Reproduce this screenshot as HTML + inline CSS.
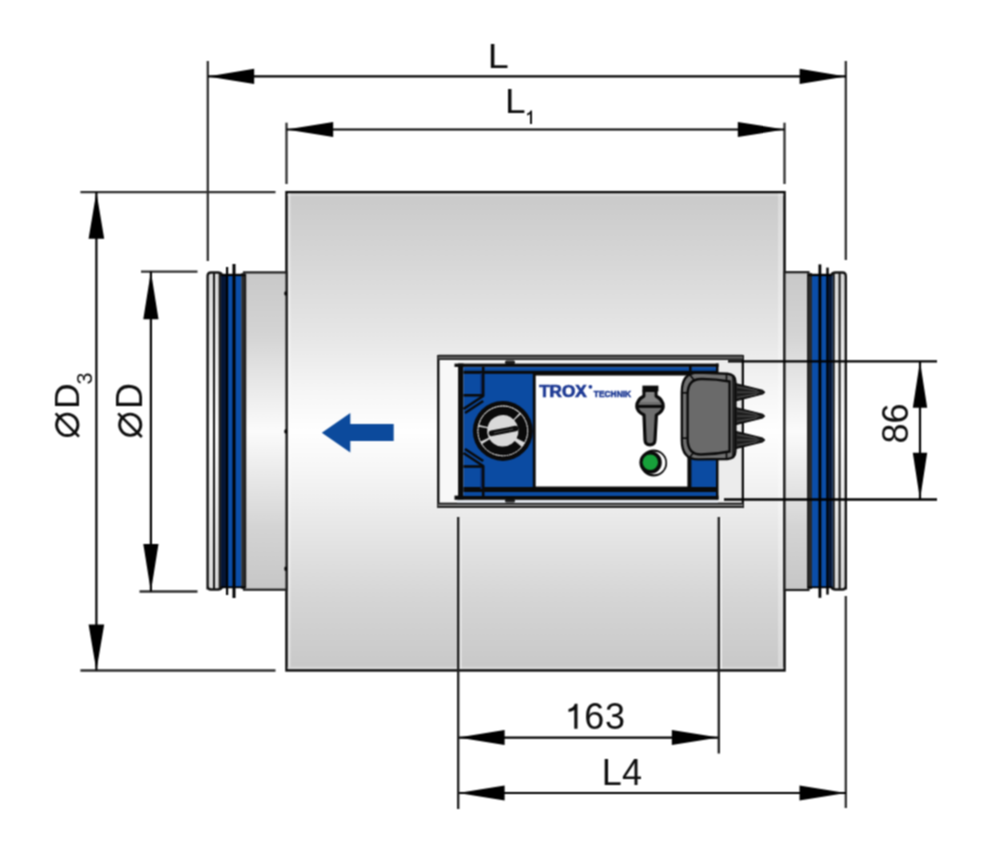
<!DOCTYPE html>
<html><head><meta charset="utf-8">
<style>
html,body{margin:0;padding:0;background:#fff;width:1000px;height:858px;overflow:hidden}
svg{display:block}
text{font-family:"Liberation Sans",sans-serif;fill:#0d0d0d}
</style></head>
<body>
<svg width="1000" height="858" viewBox="0 0 1000 858">
<defs>
<filter id="soft" x="0" y="0" width="1000" height="858" filterUnits="userSpaceOnUse" color-interpolation-filters="sRGB"><feConvolveMatrix order="3" kernelMatrix="1 2 1 2 4 2 1 2 1" divisor="16" edgeMode="duplicate" preserveAlpha="true"/></filter>
<linearGradient id="body" x1="0" y1="192" x2="0" y2="670" gradientUnits="userSpaceOnUse">
<stop offset="0" stop-color="#c9c9c9"/>
<stop offset="0.15" stop-color="#d7d7d7"/>
<stop offset="0.3" stop-color="#e6e6e6"/>
<stop offset="0.42" stop-color="#f6f6f6"/>
<stop offset="0.5" stop-color="#fefefe"/>
<stop offset="0.58" stop-color="#f6f6f6"/>
<stop offset="0.7" stop-color="#e7e7e7"/>
<stop offset="0.85" stop-color="#d5d5d5"/>
<stop offset="1" stop-color="#c8c8c8"/>
</linearGradient>
<linearGradient id="spig" x1="0" y1="272" x2="0" y2="590" gradientUnits="userSpaceOnUse">
<stop offset="0" stop-color="#c8c8c8"/>
<stop offset="0.2" stop-color="#d4d4d4"/>
<stop offset="0.5" stop-color="#fbfbfb"/>
<stop offset="0.8" stop-color="#d4d4d4"/>
<stop offset="1" stop-color="#c6c6c6"/>
</linearGradient>
<linearGradient id="ring" x1="0" y1="272" x2="0" y2="590" gradientUnits="userSpaceOnUse">
<stop offset="0" stop-color="#d8d8d8"/>
<stop offset="0.5" stop-color="#fafafa"/>
<stop offset="1" stop-color="#d8d8d8"/>
</linearGradient>
<linearGradient id="pin" x1="0" y1="0" x2="0" y2="1">
<stop offset="0" stop-color="#111"/>
<stop offset="0.5" stop-color="#333"/>
<stop offset="1" stop-color="#111"/>
</linearGradient>
</defs>
<g filter="url(#soft)">
<rect x="0" y="0" width="1000" height="858" fill="#fff"/>

<!-- ===== main body ===== -->
<rect x="286.5" y="192.2" width="498" height="478.2" fill="url(#body)" stroke="#0a0a0a" stroke-width="2.5"/>

<rect x="287.7" y="193.6" width="495.6" height="2.2" fill="#d9d9d9"/>
<rect x="287.8" y="193.5" width="2.6" height="475.5" fill="#fff" opacity="0.45"/>
<rect x="778" y="193.5" width="5.2" height="475.5" fill="#fff" opacity="0.3"/>
<rect x="287.7" y="666.8" width="495.6" height="2.3" fill="#d8d8d8"/>
<!-- ===== left spigot ===== -->
<g>
<rect x="244" y="272.4" width="42.5" height="317.3" fill="url(#spig)" stroke="#1e1e1e" stroke-width="2.2"/>
<path d="M207.6,589.5 V276 Q207.6,272.5 211,272.5 H218 Q221,272.5 222,275 H245 V587 H222 Q221,589.5 218,589.5 H211 Q207.6,589.5 207.6,586 Z" fill="url(#ring)" stroke="#141414" stroke-width="2.4"/>
<line x1="214" y1="273" x2="214" y2="589" stroke="#141414" stroke-width="2"/>
<line x1="219.8" y1="273" x2="219.8" y2="589" stroke="#141414" stroke-width="2.2"/>
<rect x="221" y="275.5" width="20.5" height="311.5" fill="#0b4ea8"/>
<rect x="221" y="275.5" width="5" height="311.5" fill="#051636"/>
<rect x="241.3" y="273" width="3.6" height="316" fill="#2a2a2a"/>
<rect x="226" y="267" width="2.2" height="328" fill="#000"/>
<rect x="232.5" y="264" width="3" height="334" fill="#000"/>
<line x1="221" y1="275.3" x2="245" y2="275.3" stroke="#000" stroke-width="1.6"/>
<line x1="221" y1="587.2" x2="245" y2="587.2" stroke="#000" stroke-width="1.6"/>
</g>

<!-- ===== right spigot ===== -->
<g>
<rect x="784.5" y="272.2" width="24" height="317.8" fill="url(#spig)" stroke="#1e1e1e" stroke-width="2.2"/>
<path d="M845.8,589.5 V276 Q845.8,272.5 842.4,272.5 H835.4 Q832.4,272.5 831.4,275 H808.4 V587 H831.4 Q832.4,589.5 835.4,589.5 H842.4 Q845.8,589.5 845.8,586 Z" fill="url(#ring)" stroke="#141414" stroke-width="2.4"/>
<line x1="839.6" y1="273" x2="839.6" y2="589" stroke="#141414" stroke-width="2"/>
<line x1="833.6" y1="273" x2="833.6" y2="589" stroke="#141414" stroke-width="2.2"/>
<rect x="812" y="275.5" width="20.5" height="311.5" fill="#0b4ea8"/>
<rect x="829" y="275.5" width="3.2" height="311.5" fill="#051636"/>
<rect x="808.2" y="273" width="3.8" height="316" fill="#2a2a2a"/>
<rect x="818.5" y="264.4" width="2.8" height="333.4" fill="#000"/>
<rect x="826.3" y="267.6" width="2.4" height="327" fill="#000"/>
<line x1="808" y1="275.3" x2="832" y2="275.3" stroke="#000" stroke-width="1.6"/>
<line x1="808" y1="587.2" x2="832" y2="587.2" stroke="#000" stroke-width="1.6"/>
</g>

<ellipse cx="285.6" cy="293.4" rx="1.3" ry="2.2" fill="#000"/>
<ellipse cx="285.6" cy="431.4" rx="1.3" ry="2.2" fill="#000"/>
<ellipse cx="285.6" cy="568.7" rx="1.3" ry="2.2" fill="#000"/>
<!-- ===== flow arrow ===== -->
<polygon points="321.8,432.7 350.3,413.1 350.3,424.1 393.7,424.1 393.7,441.1 350.3,441.1 350.3,452.6" fill="#0c4a9c"/>

<!-- ===== dimension lines ===== -->
<g stroke="#000" fill="none">
<g stroke-width="2.3" stroke="#2e2e2e">
<line x1="207.8" y1="61" x2="207.8" y2="261"/>
<line x1="845.8" y1="61" x2="845.8" y2="260"/>
<line x1="286.5" y1="122.7" x2="286.5" y2="184"/>
<line x1="784.5" y1="122.7" x2="784.5" y2="184"/>
<line x1="80.4" y1="192.1" x2="275.5" y2="192.1"/>
<line x1="80.4" y1="670.5" x2="275.5" y2="670.5"/>
<line x1="141" y1="271.6" x2="197.5" y2="271.6"/>
<line x1="139.5" y1="591.5" x2="197.5" y2="591.5"/>
<line x1="845.8" y1="596" x2="845.8" y2="808"/>
</g>
<g stroke-width="2.2">
<line x1="208" y1="76.4" x2="846" y2="76.4"/>
<line x1="286.5" y1="129.5" x2="784.5" y2="129.5"/>
<line x1="96.4" y1="192" x2="96.4" y2="670.5"/>
<line x1="150.9" y1="271.6" x2="150.9" y2="591.5"/>
<line x1="920" y1="361.6" x2="920" y2="499.5"/>
<line x1="458.2" y1="737.6" x2="718.8" y2="737.6"/>
<line x1="458.2" y1="793" x2="845.8" y2="793"/>
</g>
</g>
<g fill="#000">
<polygon points="207.8,76.4 254.2,68.8 254.2,84"/>
<polygon points="845.8,76.4 799.6,68.8 799.6,84"/>
<polygon points="286.5,129.5 333.2,121.9 333.2,137.1"/>
<polygon points="784.5,129.5 737.8,121.9 737.8,137.1"/>
<polygon points="96.4,192.1 88.6,238.8 104.2,238.8"/>
<polygon points="96.4,670.5 88.6,624.6 104.2,624.6"/>
<polygon points="150.9,271.6 143.3,319.3 158.5,319.3"/>
<polygon points="150.9,591.5 143.3,544 158.5,544"/>
<polygon points="920,361.6 912.8,407.8 927.2,407.8"/>
<polygon points="920,499.5 912.8,452.8 927.2,452.8"/>
<polygon points="458.2,737.6 504.6,730.1 504.6,745.1"/>
<polygon points="718.8,737.6 671.8,730.1 671.8,745.1"/>
<polygon points="458.2,793 504.6,785.6 504.6,800.4"/>
<polygon points="845.8,793 799.5,785.6 799.5,800.4"/>
</g>

<!-- ===== labels ===== -->
<text transform="translate(490.9,67.9) scale(1.07,1)" x="-2.9" y="0" font-size="35.3">L</text>
<text transform="translate(508.1,113.2) scale(1.05,1)" x="-2.9" y="0" font-size="35.3">L</text>
<path d="M530,124 V114 Q528.5,115.3 527.1,115.4 V113.4 Q530.2,112.6 530.6,110.4 H532 V124 Z" fill="#0d0d0d"/>
<path d="M574.3,728.8 V710 Q572,711.8 568.5,711.9 V709.1 Q573.6,708 574.8,703.8 H577.5 V728.8 Z" fill="#0d0d0d"/>
<text x="584.3" y="729.05" font-size="36">6</text>
<text x="604.9" y="729.05" font-size="36">3</text>
<text x="601.75" y="784.6" font-size="36">L</text>
<text x="621.9" y="784.6" font-size="36">4</text>
<text transform="translate(908.15,443.4) rotate(-90)" font-size="36">86</text>
<!-- ØD3 -->
<text transform="translate(78.6,408.95) rotate(-90)" font-size="35.5">D</text>
<circle cx="67.25" cy="424.85" r="10.7" fill="none" stroke="#0d0d0d" stroke-width="2.9"/>
<line x1="55.6" y1="413.3" x2="79" y2="436.6" stroke="#0d0d0d" stroke-width="2.6"/>
<text transform="translate(91.8,384.4) rotate(-90)" font-size="21.5">3</text>
<!-- ØD -->
<text transform="translate(142.2,408.95) rotate(-90)" font-size="36">D</text>
<circle cx="130.2" cy="424.75" r="10.6" fill="none" stroke="#0d0d0d" stroke-width="2.9"/>
<line x1="118.2" y1="413.4" x2="141.8" y2="437" stroke="#0d0d0d" stroke-width="2.6"/>

<!-- ===== controller ===== -->
<g>
<!-- outer frame -->
<rect x="438.4" y="355.5" width="304.2" height="151.5" fill="#f1f1f1"/>
<rect x="440" y="360" width="18" height="143" fill="#f8f8f8"/>
<rect x="718" y="360" width="24" height="143" fill="#ececec"/>
<line x1="438.3" y1="355" x2="438.3" y2="508" stroke="#000" stroke-width="2.2"/>
<line x1="742.8" y1="355" x2="742.8" y2="508" stroke="#000" stroke-width="2.2"/>
<rect x="438.3" y="354.9" width="304.5" height="5.1" fill="#555"/>
<line x1="438.3" y1="355.4" x2="742.8" y2="355.4" stroke="#000" stroke-width="1"/>
<line x1="438.3" y1="359.5" x2="742.8" y2="359.5" stroke="#1a1a1a" stroke-width="1"/>
<rect x="438.3" y="502.8" width="304.5" height="5.1" fill="#9a9a9a"/>
<line x1="438.3" y1="503.6" x2="742.8" y2="503.6" stroke="#111" stroke-width="1.6"/>
<line x1="438.3" y1="506.9" x2="742.8" y2="506.9" stroke="#111" stroke-width="1.9"/>
<rect x="457" y="499.8" width="261" height="3" fill="#dde2e8"/>
<!-- tabs -->
<rect x="505" y="360.5" width="10" height="3.5" rx="1.5" fill="#222"/>
<rect x="505" y="499" width="10" height="3.5" rx="1.5" fill="#222"/>
<!-- housing -->
<rect x="454.5" y="363.6" width="264" height="3.3" fill="#0a0a0a"/>
<rect x="454.5" y="495.6" width="264" height="4.2" fill="#0a0a0a"/>
<rect x="458.1" y="363.5" width="5.4" height="135.9" fill="#0a0a0a"/>
<rect x="463.5" y="367.1" width="253.5" height="128.9" fill="#0b4ba2"/>
<rect x="716" y="363.5" width="2.5" height="135.9" fill="#0a0a0a"/>
<rect x="463.5" y="370.8" width="253.5" height="3" fill="#0a0a0a"/>
<rect x="463.5" y="487" width="253.5" height="5" fill="#0a0a0a"/>
<!-- left column details -->
<g stroke="#0a0a0a" stroke-width="2.6" fill="none" stroke-linejoin="round">
<path d="M483.2,367 V396 L463.5,409"/>
<path d="M483.2,401 L465,413"/>
<path d="M463.5,395.3 H483"/>
<path d="M483.2,496 V466 L463.5,453"/>
<path d="M483.2,461 L465,449"/>
<path d="M463.5,466.5 H483"/>
</g>
<rect x="480.5" y="373" width="1.6" height="21" fill="#06286a"/>
<rect x="480.5" y="468" width="1.6" height="21" fill="#06286a"/>
<!-- white label -->
<rect x="534.25" y="374.1" width="154.6" height="113.9" fill="#fff" stroke="#0a0a0a" stroke-width="2.9"/>
<rect x="688.8" y="372" width="2.6" height="118" fill="#0a0a0a"/>
<!-- knob -->
<circle cx="502.8" cy="430.9" r="30" fill="#0a0a0a"/>
<circle cx="502.8" cy="430.9" r="25.3" fill="#d9d9d9"/>
<g fill="none" stroke="#0a0a0a" stroke-width="8.8">
<path d="M483.3,426.0 A20.1,20.1 0 0 1 516.5,416.2"/>
<path d="M517.5,417.2 A20.1,20.1 0 0 1 520.5,440.3"/>
<path d="M518.2,443.8 A20.1,20.1 0 0 1 485.8,441.6"/>
<path d="M484.7,439.7 A20.1,20.1 0 0 1 483.0,427.4"/>
</g>
<circle cx="502.8" cy="430.9" r="24.9" fill="none" stroke="#e6e6e6" stroke-width="0.9" stroke-dasharray="1.6 1.4"/>
<line x1="491.5" y1="433.3" x2="515.5" y2="428.6" stroke="#0a0a0a" stroke-width="5.6" stroke-linecap="round"/>
<line x1="494" y1="432.8" x2="513" y2="429.1" stroke="#444" stroke-width="1.2"/>
<!-- TROX logo -->
<text x="539.2" y="396.5" font-size="15.8" font-weight="bold" textLength="47.4" lengthAdjust="spacingAndGlyphs" style="fill:#1e3a94;stroke:#1e3a94;stroke-width:0.7">TROX</text>
<circle cx="590.4" cy="386.8" r="1.9" fill="#1e3a94"/>
<text x="593.8" y="396.5" font-size="8.6" font-weight="bold" textLength="37.4" lengthAdjust="spacingAndGlyphs" style="fill:#1e3a94;stroke:#1e3a94;stroke-width:0.5">TECHNIK</text>
<!-- lever -->
<path d="M644,391 V396 C639,398.5 636.8,402 636.8,406.4 C636.8,410 639.5,412.5 644,415 L645,440 Q645.2,444.8 650,444.8 Q654.8,444.8 655,440 L656.4,415 C660.5,412.5 663.2,410 663.2,406.4 C663.2,402 661,398.5 656,396 V391 Z" fill="#6e6e6e" stroke="#0a0a0a" stroke-width="3.2" stroke-linejoin="round"/>
<path d="M645.6,392 H654.4 V397 L660,402 H640 L645.6,397 Z" fill="#858585"/>
<rect x="642.4" y="385.6" width="16" height="5.8" fill="#0a0a0a"/>
<line x1="636" y1="406.4" x2="664" y2="406.4" stroke="#0a0a0a" stroke-width="3"/>
<!-- LED -->
<circle cx="653.6" cy="463" r="13.5" fill="#0a0a0a"/>
<circle cx="654.2" cy="463" r="11.2" fill="#fff"/>
<circle cx="650.6" cy="462.5" r="11.2" fill="#0a0a0a"/>
<circle cx="650.3" cy="462.3" r="7.7" fill="#17a03a"/>
<!-- connector -->
<rect x="689" y="366" width="2.6" height="8" fill="#0a0a0a"/>
<path d="M698,372.6 L727.5,373.8 Q735.4,374.5 735.4,382 V451 Q735.4,458.4 727.5,459 L698,459.4 Q681.8,459.4 681.8,440 V392 Q681.8,372.6 698,372.6 Z" fill="#707070" stroke="#0a0a0a" stroke-width="2.4"/>
<path d="M701,379 Q715,378.8 729.6,381.5 V451.5 Q715,454.5 701,454.5 Q687.6,454.5 687.6,439 V394.5 Q687.6,379 701,379 Z" fill="#6a6a6a" stroke="#0a0a0a" stroke-width="2.4"/>
<line x1="733" y1="376" x2="733" y2="456" stroke="#0a0a0a" stroke-width="1.5"/>
<g stroke="#0a0a0a" stroke-width="1.6">
<line x1="682.5" y1="392.8" x2="688" y2="392.8"/>
<line x1="682.5" y1="438.2" x2="688" y2="438.2"/>
<line x1="690" y1="375" x2="694" y2="380"/>
<line x1="690" y1="457" x2="694" y2="452"/>
<line x1="726.5" y1="374" x2="726.5" y2="381"/>
<line x1="726.5" y1="452" x2="726.5" y2="459"/>
</g>
<!-- pins -->
<polygon points="735.4,383.6 762.5,390.4 764.5,392.2 762.5,394.0 735.4,400.8" fill="#1c1c1c" stroke="#0a0a0a" stroke-width="1.2" stroke-linejoin="round"/>
<g stroke="#5a5a5a" stroke-width="0.9"><line x1="737" y1="387.0" x2="757" y2="390.4"/><line x1="737" y1="397.4" x2="757" y2="394.0"/><line x1="737" y1="392.2" x2="759" y2="392.2"/></g>
<polygon points="735.4,407.5 762.5,414.3 764.5,416.1 762.5,417.9 735.4,424.7" fill="#1c1c1c" stroke="#0a0a0a" stroke-width="1.2" stroke-linejoin="round"/>
<g stroke="#5a5a5a" stroke-width="0.9"><line x1="737" y1="410.9" x2="757" y2="414.3"/><line x1="737" y1="421.3" x2="757" y2="417.9"/><line x1="737" y1="416.1" x2="759" y2="416.1"/></g>
<polygon points="735.4,431.4 762.5,438.2 764.5,440.0 762.5,441.8 735.4,448.6" fill="#1c1c1c" stroke="#0a0a0a" stroke-width="1.2" stroke-linejoin="round"/>
<g stroke="#5a5a5a" stroke-width="0.9"><line x1="737" y1="434.8" x2="757" y2="438.2"/><line x1="737" y1="445.2" x2="757" y2="441.8"/><line x1="737" y1="440.0" x2="759" y2="440.0"/></g>
</g>

<line x1="728" y1="361.4" x2="937" y2="361.4" stroke="#000" stroke-width="2.4"/>
<line x1="724" y1="499.5" x2="937" y2="499.5" stroke="#000" stroke-width="2.4"/>
<!-- knock-out halo for 163 extension lines over body -->
<line x1="460.6" y1="518" x2="460.6" y2="669" stroke="#f4f4f4" stroke-width="1.4"/>
<line x1="721.2" y1="518" x2="721.2" y2="669" stroke="#f4f4f4" stroke-width="1.4"/>
<line x1="458.2" y1="517" x2="458.2" y2="809" stroke="#222" stroke-width="2.4"/>
<line x1="718.8" y1="517" x2="718.8" y2="753.5" stroke="#222" stroke-width="2.4"/>
</g>
</svg>
</body></html>
